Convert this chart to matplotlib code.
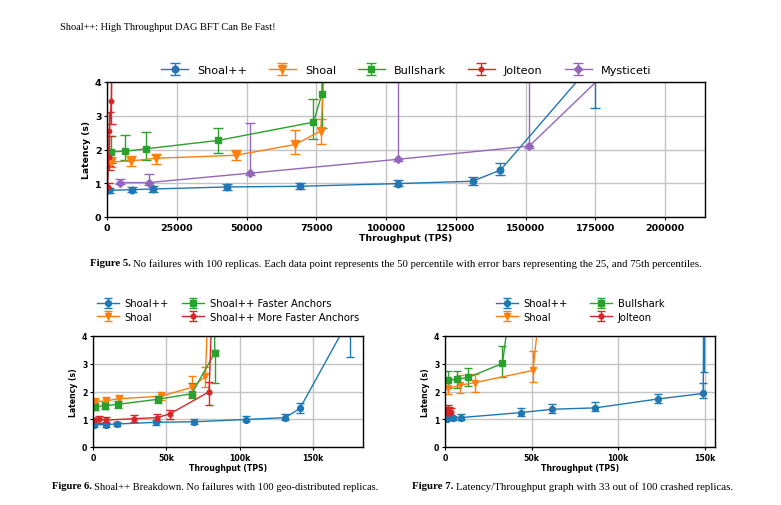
import numpy as np
import matplotlib
matplotlib.use("Agg")
import matplotlib.pyplot as plt
from matplotlib.ticker import FuncFormatter

W, H = 781, 506

# ---- Figure 5: no failures, 100 replicas ----
sp_x = [850, 8800, 16500, 42900, 69000, 104300, 131000, 141000, 175000]
sp_y = [0.79, 0.81, 0.83, 0.89, 0.91, 0.99, 1.06, 1.39, 4.65]
sp_lo = [0.72, 0.73, 0.75, 0.81, 0.83, 0.92, 0.96, 1.24, 3.24]
sp_hi = [0.86, 0.90, 0.91, 0.98, 1.02, 1.10, 1.18, 1.59, 6.0]

sh_x = [1450, 8600, 17500, 46300, 67500, 76600, 79000]
sh_y = [1.63, 1.66, 1.74, 1.83, 2.15, 2.55, 6.0]
sh_lo = [1.48, 1.51, 1.58, 1.68, 1.86, 2.15, 5.0]
sh_hi = [1.78, 1.80, 1.88, 2.00, 2.57, 2.90, 7.0]

bs_x = [1450, 6600, 13900, 39900, 74000, 77000, 77600]
bs_y = [1.93, 1.95, 2.02, 2.27, 2.81, 3.64, 6.0]
bs_lo = [1.60, 1.68, 1.70, 1.91, 2.32, 2.65, 5.0]
bs_hi = [2.40, 2.44, 2.51, 2.63, 3.49, 4.5, 7.0]

jo_x = [200, 600, 850, 1570, 1900]
jo_y = [0.90, 1.78, 2.55, 3.45, 6.0]
jo_lo = [0.83, 1.38, 1.50, 2.75, 5.0]
jo_hi = [1.00, 2.40, 3.12, 4.5, 7.0]

my_x = [4800, 14900, 51400, 104300, 151300, 179000]
my_y = [1.02, 1.02, 1.30, 1.71, 2.10, 4.3]
my_lo = [0.97, 0.95, 1.25, 1.65, 2.05, 4.0]
my_hi = [1.14, 1.27, 2.78, 9.0, 9.0, 9.0]

# ---- Figure 6: Shoal++ breakdown ----
fa_x = [1600, 8200, 17000, 44300, 67300, 83000, 82500]
fa_y = [1.45, 1.49, 1.54, 1.72, 1.92, 3.40, 6.0]
fa_lo = [1.35, 1.38, 1.42, 1.58, 1.75, 2.32, 5.0]
fa_hi = [1.60, 1.62, 1.66, 1.85, 2.30, 3.50, 7.0]

mfa_x = [1100, 4100, 9100, 27700, 43600, 52300, 79100, 81800]
mfa_y = [0.96, 1.00, 0.97, 1.02, 1.06, 1.19, 1.99, 6.0]
mfa_lo = [0.88, 0.88, 0.88, 0.90, 0.92, 1.02, 1.52, 5.0]
mfa_hi = [1.05, 1.12, 1.08, 1.15, 1.20, 1.35, 2.35, 7.0]

# ---- Figure 7: 33 of 100 replicas crashed ----
c_sp_x = [1000, 4400, 9100, 43800, 62000, 86900, 123000, 149200, 149500]
c_sp_y = [1.02, 1.05, 1.06, 1.24, 1.36, 1.41, 1.73, 1.93, 6.0]
c_sp_lo = [0.97, 0.98, 0.98, 1.12, 1.24, 1.29, 1.58, 1.75, 2.70]
c_sp_hi = [1.08, 1.12, 1.18, 1.42, 1.55, 1.61, 1.90, 2.32, 9.0]

c_sh_x = [1900, 8700, 17400, 50800, 56500]
c_sh_y = [2.11, 2.23, 2.32, 2.76, 6.0]
c_sh_lo = [1.92, 1.93, 2.00, 2.36, 5.0]
c_sh_hi = [2.45, 2.60, 2.63, 3.45, 7.0]

c_bs_x = [1900, 6800, 13500, 33200, 39500]
c_bs_y = [2.41, 2.44, 2.51, 3.01, 6.0]
c_bs_lo = [2.12, 2.12, 2.20, 2.52, 5.0]
c_bs_hi = [2.73, 2.75, 2.85, 3.65, 7.0]

c_jo_x = [900, 1700, 2600, 3300]
c_jo_y = [1.22, 1.38, 1.30, 1.26]
c_jo_lo = [1.12, 1.25, 1.18, 1.15]
c_jo_hi = [1.32, 1.50, 1.45, 1.40]

BLUE, ORANGE, GREEN, RED, PURPLE = "#1f77b4", "#ff7f0e", "#2ca02c", "#d62728", "#9467bd"

fig = plt.figure(figsize=(W / 100, H / 100), dpi=100)


def box(l, t, r, b):
    return [l / W, 1 - b / H, (r - l) / W, (b - t) / H]


def series(ax, x, y, lo, hi, color, marker, label, ms, cs, lw=1.0):
    y = np.array(y)
    yerr = [y - np.array(lo), np.array(hi) - y]
    ax.errorbar(x, y, yerr=yerr, color=color, marker=marker, ms=ms, lw=lw,
                elinewidth=lw, capsize=cs, label=label)


def style(ax, xmax, ticks, tsize, lsize, kfmt):
    ax.set_xlim(0, xmax)
    ax.set_ylim(0, 4)
    ax.set_xticks(ticks)
    ax.set_yticks([0, 1, 2, 3, 4])
    if kfmt:
        ax.xaxis.set_major_formatter(FuncFormatter(lambda v, p: "0" if v == 0 else "%dk" % (v / 1000)))
    ax.grid(True, color="#c4c4c4", lw=1.0)
    ax.set_axisbelow(True)
    ax.tick_params(labelsize=tsize, length=2.5, width=0.8, pad=1.5)
    for lab in ax.get_xticklabels() + ax.get_yticklabels():
        lab.set_fontweight("bold")
    ax.set_xlabel("Throughput (TPS)", fontsize=lsize, fontweight="bold", labelpad=1)
    ax.set_ylabel("Latency (s)", fontsize=lsize, fontweight="bold", labelpad=3)
    for s in ax.spines.values():
        s.set_linewidth(1.0)


# top chart
ax1 = fig.add_axes(box(107, 83, 705, 218))
series(ax1, sp_x, sp_y, sp_lo, sp_hi, BLUE, "o", "Shoal++", 4.7, 3.5)
series(ax1, sh_x, sh_y, sh_lo, sh_hi, ORANGE, "v", "Shoal", 5.2, 3.5)
series(ax1, bs_x, bs_y, bs_lo, bs_hi, GREEN, "s", "Bullshark", 4.7, 3.5)
series(ax1, jo_x, jo_y, jo_lo, jo_hi, RED, "o", "Jolteon", 3.2, 3.5)
series(ax1, my_x, my_y, my_lo, my_hi, PURPLE, "D", "Mysticeti", 4.2, 3.5)
style(ax1, 214300, range(0, 200001, 25000), 6.8, 6.7, False)
fig.legend(*ax1.get_legend_handles_labels(), loc="center", ncol=5, frameon=False,
           bbox_to_anchor=(406 / W, 1 - 71 / H), fontsize=8.1, handlelength=2.4,
           columnspacing=1.95, handletextpad=0.8)

# bottom left
ax2 = fig.add_axes(box(93, 337, 363, 448))
series(ax2, sp_x, sp_y, sp_lo, sp_hi, BLUE, "o", "Shoal++", 4.2, 2.8)
series(ax2, sh_x, sh_y, sh_lo, sh_hi, ORANGE, "v", "Shoal", 4.6, 2.8)
series(ax2, fa_x, fa_y, fa_lo, fa_hi, GREEN, "s", "Shoal++ Faster Anchors", 4.2, 2.8)
series(ax2, mfa_x, mfa_y, mfa_lo, mfa_hi, RED, "o", "Shoal++ More Faster Anchors", 3.4, 2.8)
style(ax2, 184000, [0, 50000, 100000, 150000], 5.6, 5.6, True)
fig.legend(*ax2.get_legend_handles_labels(), loc="center", ncol=2, frameon=False,
           bbox_to_anchor=(228 / W, 1 - 311 / H), fontsize=7.2, handlelength=2.2,
           columnspacing=1.3, handletextpad=0.6, labelspacing=0.35)

# bottom right
ax3 = fig.add_axes(box(445, 337, 715, 448))
series(ax3, c_sp_x, c_sp_y, c_sp_lo, c_sp_hi, BLUE, "o", "Shoal++", 4.2, 2.8)
series(ax3, c_sh_x, c_sh_y, c_sh_lo, c_sh_hi, ORANGE, "v", "Shoal", 4.6, 2.8)
series(ax3, c_bs_x, c_bs_y, c_bs_lo, c_bs_hi, GREEN, "s", "Bullshark", 4.2, 2.8)
series(ax3, c_jo_x, c_jo_y, c_jo_lo, c_jo_hi, RED, "o", "Jolteon", 3.4, 2.8)
style(ax3, 156000, [0, 50000, 100000, 150000], 5.6, 5.6, True)
fig.legend(*ax3.get_legend_handles_labels(), loc="center", ncol=2, frameon=False,
           bbox_to_anchor=(580 / W, 1 - 311 / H), fontsize=7.2, handlelength=2.2,
           columnspacing=2.2, handletextpad=0.6, labelspacing=0.35)

# page text
SERIF = ["Liberation Serif", "DejaVu Serif"]
fig.text(60 / W, 1 - 27 / H, "Shoal++: High Throughput DAG BFT Can Be Fast!",
         family=SERIF, fontsize=7.5, va="center")

renderer = fig.canvas.get_renderer()


def caption(x0, y0, head, rest, size):
    t = fig.text(x0 / W, 1 - y0 / H, head, family=SERIF, fontsize=size,
                 fontweight="bold", va="center")
    bb = t.get_window_extent(renderer)
    fig.text((bb.x1 + 2.5) / W, 1 - y0 / H, rest, family=SERIF, fontsize=size, va="center")


caption(90, 264, "Figure 5.", "No failures with 100 replicas. Each data point represents the 50 percentile "
                              "with error bars representing the 25, and 75th percentiles.", 7.75)
caption(52, 487, "Figure 6.", "Shoal++ Breakdown. No failures with 100 geo-distributed replicas.", 7.6)
caption(412, 487, "Figure 7.", "Latency/Throughput graph with 33 out of 100 crashed replicas.", 7.8)

fig.savefig("out.png", dpi=100)
